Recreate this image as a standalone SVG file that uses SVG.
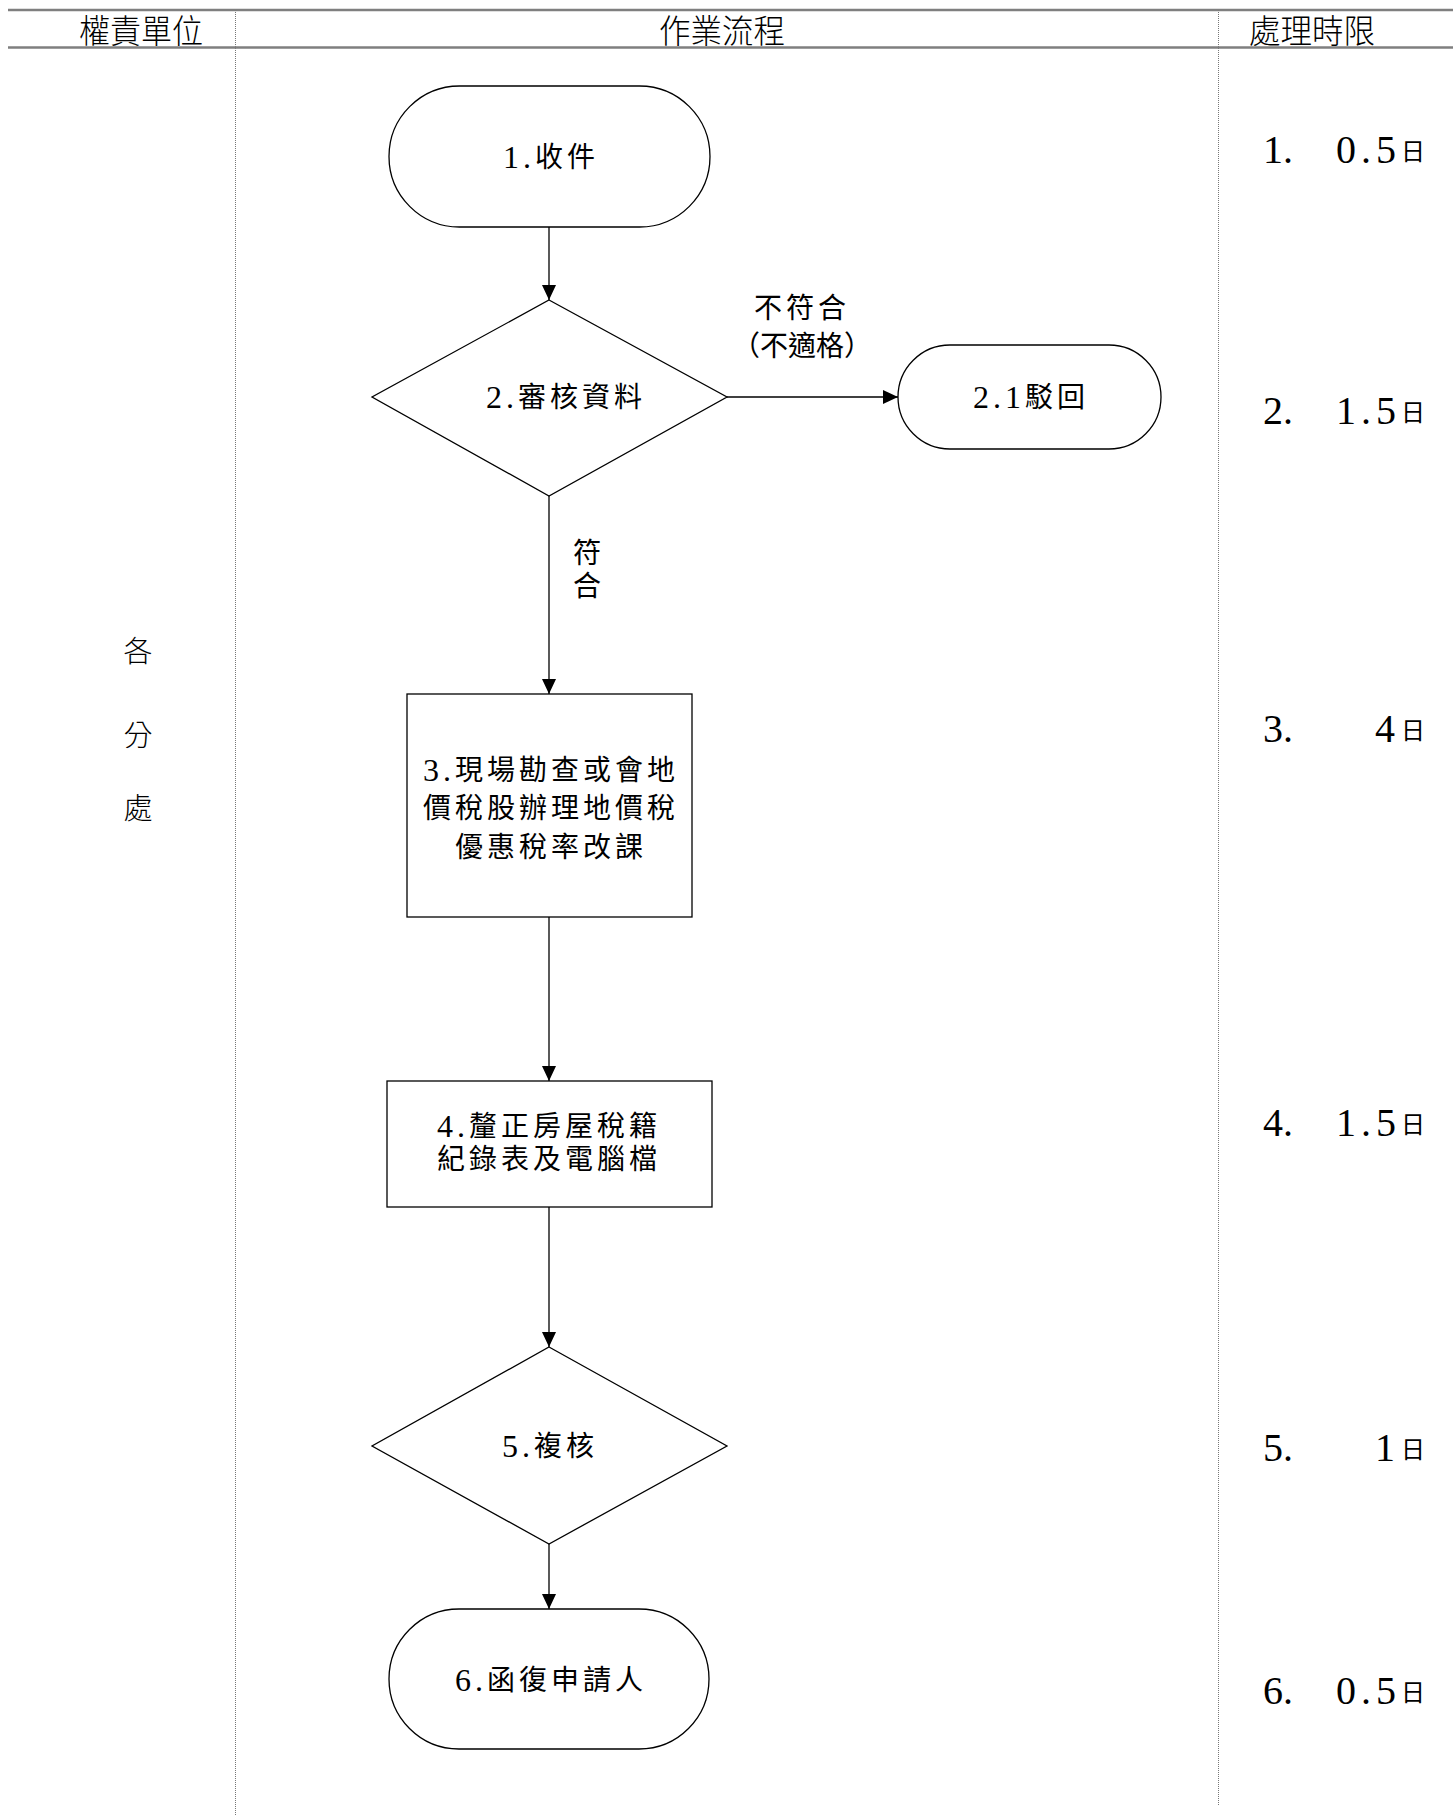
<svg xmlns="http://www.w3.org/2000/svg" width="1453" height="1816" viewBox="0 0 1453 1816">
<style>
.hdr{font-family:"Noto Sans CJK TC","Noto Sans CJK SC",sans-serif;font-size:33px;font-weight:300;fill:#000}
.side{font-family:"Noto Sans CJK TC","Noto Sans CJK SC",sans-serif;font-size:29px;font-weight:300;fill:#000}
.nt{font-family:"Liberation Serif","Noto Sans CJK TC",serif;font-size:28px;letter-spacing:4px;fill:#000}
.num{font-size:32px}
.tm{font-family:"Liberation Serif",serif;font-size:40px;fill:#000}
.day{font-family:"Noto Sans CJK TC",sans-serif;font-size:24px;fill:#000}
.shape{fill:#fff;stroke:#000;stroke-width:1.3}
.conn{fill:none;stroke:#000;stroke-width:1.3;marker-end:url(#arr)}
.div{stroke:#777;stroke-width:1;stroke-dasharray:1 1}
.rule{stroke:#7f7f7f;stroke-width:2.5}
text{dominant-baseline:central}
</style>
<defs>
<marker id="arr" markerUnits="userSpaceOnUse" markerWidth="16" markerHeight="16" refX="15" refY="7" orient="auto">
<path d="M0,0 L15,7 L0,14 z" fill="#000"/>
</marker>
</defs>
<rect width="1453" height="1816" fill="#fff"/>
<g id="table">
<line class="rule" x1="8" y1="10" x2="1453" y2="10"/>
<line class="rule" x1="8" y1="47.5" x2="1453" y2="47.5"/>
<line class="div" x1="235.5" y1="10" x2="235.5" y2="1816"/>
<line class="div" x1="1218.5" y1="10" x2="1218.5" y2="1806"/>
<text class="hdr" x="141" y="29" text-anchor="middle" textLength="124" lengthAdjust="spacingAndGlyphs">權責單位</text>
<text class="hdr" x="722" y="29" text-anchor="middle" textLength="126" lengthAdjust="spacingAndGlyphs">作業流程</text>
<text class="hdr" x="1312" y="29" text-anchor="middle" textLength="126" lengthAdjust="spacingAndGlyphs">處理時限</text>
</g>
<g id="unit">
<text class="side" x="138" y="649" text-anchor="middle">各</text>
<text class="side" x="138" y="733" text-anchor="middle">分</text>
<text class="side" x="138" y="806" text-anchor="middle">處</text>
</g>
<g id="connectors">
<line class="conn" x1="549" y1="227" x2="549" y2="300"/>
<line class="conn" x1="727" y1="397" x2="898" y2="397"/>
<line class="conn" x1="549" y1="496" x2="549" y2="694"/>
<line class="conn" x1="549" y1="917" x2="549" y2="1081"/>
<line class="conn" x1="549" y1="1207" x2="549" y2="1347"/>
<line class="conn" x1="549" y1="1544" x2="549" y2="1609"/>
<text class="nt" x="802" y="308" text-anchor="middle">不符合</text>
<text class="nt" x="802" y="346" text-anchor="middle" style="letter-spacing:0">（不適格）</text>
<text class="nt" x="589" y="553" text-anchor="middle">符</text>
<text class="nt" x="589" y="586" text-anchor="middle">合</text>
</g>
<g id="n1">
<rect class="shape" x="389" y="86" width="321" height="141" rx="70.5"/>
<text class="nt" x="551" y="157" text-anchor="middle"><tspan class="num">1.</tspan>收件</text>
</g>
<g id="n2">
<polygon class="shape" points="549,300 727,397 549,496 372,397"/>
<text class="nt" x="566" y="397" text-anchor="middle"><tspan class="num">2.</tspan>審核資料</text>
</g>
<g id="n2_1">
<rect class="shape" x="898" y="345" width="263" height="104" rx="52"/>
<text class="nt" x="1031" y="397" text-anchor="middle"><tspan class="num">2.1</tspan>駁回</text>
</g>
<g id="n3">
<rect class="shape" x="407" y="694" width="285" height="223"/>
<text class="nt" x="551" y="770" text-anchor="middle"><tspan class="num">3.</tspan>現場勘查或會地</text>
<text class="nt" x="551" y="808" text-anchor="middle">價稅股辦理地價稅</text>
<text class="nt" x="551" y="847" text-anchor="middle">優惠稅率改課</text>
</g>
<g id="n4">
<rect class="shape" x="387" y="1081" width="325" height="126"/>
<text class="nt" x="549" y="1126" text-anchor="middle"><tspan class="num">4.</tspan>釐正房屋稅籍</text>
<text class="nt" x="549" y="1159" text-anchor="middle">紀錄表及電腦檔</text>
</g>
<g id="n5">
<polygon class="shape" points="549,1347 727,1446 549,1544 372,1446"/>
<text class="nt" x="550" y="1446" text-anchor="middle"><tspan class="num">5.</tspan>複核</text>
</g>
<g id="n6">
<rect class="shape" x="389" y="1609" width="320" height="140" rx="70"/>
<text class="nt" x="551" y="1680" text-anchor="middle"><tspan class="num">6.</tspan>函復申請人</text>
</g>
<g id="times">
<text class="tm" x="1263" y="149">1.</text>
<text class="tm" x="1336" y="149" style="letter-spacing:5px">0.5</text>
<text class="day" x="1401" y="149">日</text>
<text class="tm" x="1263" y="410">2.</text>
<text class="tm" x="1336" y="410" style="letter-spacing:5px">1.5</text>
<text class="day" x="1401" y="410">日</text>
<text class="tm" x="1263" y="728">3.</text>
<text class="tm" x="1375" y="728">4</text>
<text class="day" x="1401" y="728">日</text>
<text class="tm" x="1263" y="1122">4.</text>
<text class="tm" x="1336" y="1122" style="letter-spacing:5px">1.5</text>
<text class="day" x="1401" y="1122">日</text>
<text class="tm" x="1263" y="1447">5.</text>
<text class="tm" x="1375" y="1447">1</text>
<text class="day" x="1401" y="1447">日</text>
<text class="tm" x="1263" y="1690">6.</text>
<text class="tm" x="1336" y="1690" style="letter-spacing:5px">0.5</text>
<text class="day" x="1401" y="1690">日</text>
</g>
</svg>
